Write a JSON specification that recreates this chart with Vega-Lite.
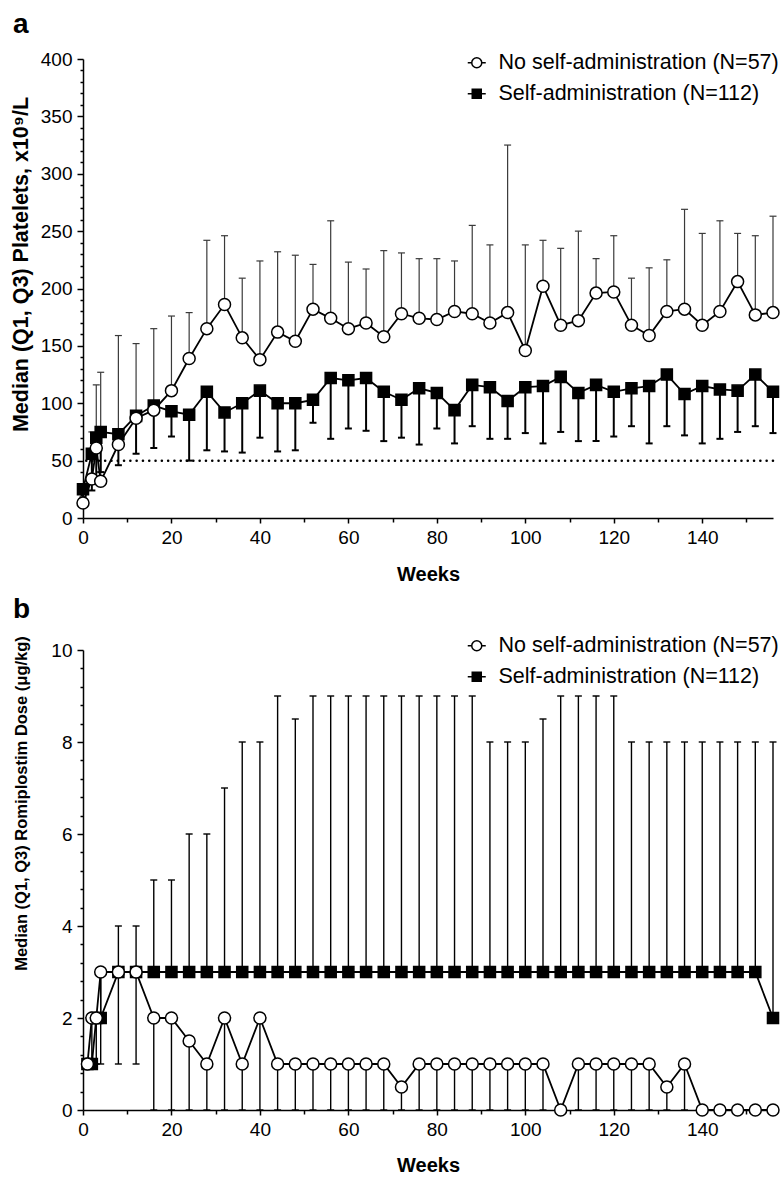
{
  "$schema": "https://vega.github.io/schema/vega-lite/v6.json",
  "padding": {"left": 10, "top": 11, "right": 0, "bottom": 0},
  "background": "white",
  "config": {
    "font": "Liberation Sans",
    "view": {"stroke": null},
    "axis": {
      "grid": false,
      "domainColor": "black",
      "domainWidth": 1.5,
      "tickColor": "black",
      "tickWidth": 1.5,
      "labelColor": "black",
      "labelFontSize": 19,
      "labelFont": "Liberation Sans",
      "titleFont": "Liberation Sans",
      "titleColor": "black",
      "titleFontWeight": "bold",
      "labelPadding": 5,
      "labelOverlap": false,
      "labelFlush": false,
      "labelBound": false
    },
    "legend": {
      "labelFontSize": 21.5,
      "labelFont": "Liberation Sans",
      "labelColor": "black",
      "labelLimit": 400,
      "symbolSize": 100,
      "symbolStrokeColor": "black",
      "symbolStrokeWidth": 1.5,
      "labelOffset": 11,
      "rowPadding": 8
    },
    "title": {"font": "Liberation Sans", "fontSize": 28, "fontWeight": "bold", "color": "black", "anchor": "start", "frame": "group"}
  },
  "datasets": {
    "platelets": [
      {"week":0,"series":"No self-administration (N=57)","median":13,"errorEnd":null},
      {"week":2,"series":"No self-administration (N=57)","median":34,"errorEnd":75},
      {"week":3,"series":"No self-administration (N=57)","median":61,"errorEnd":116},
      {"week":4,"series":"No self-administration (N=57)","median":32,"errorEnd":127},
      {"week":8,"series":"No self-administration (N=57)","median":64,"errorEnd":159},
      {"week":12,"series":"No self-administration (N=57)","median":87,"errorEnd":152},
      {"week":16,"series":"No self-administration (N=57)","median":94,"errorEnd":165},
      {"week":20,"series":"No self-administration (N=57)","median":111,"errorEnd":176},
      {"week":24,"series":"No self-administration (N=57)","median":139,"errorEnd":179},
      {"week":28,"series":"No self-administration (N=57)","median":165,"errorEnd":242},
      {"week":32,"series":"No self-administration (N=57)","median":186,"errorEnd":246},
      {"week":36,"series":"No self-administration (N=57)","median":157,"errorEnd":209},
      {"week":40,"series":"No self-administration (N=57)","median":138,"errorEnd":224},
      {"week":44,"series":"No self-administration (N=57)","median":162,"errorEnd":232},
      {"week":48,"series":"No self-administration (N=57)","median":154,"errorEnd":229},
      {"week":52,"series":"No self-administration (N=57)","median":182,"errorEnd":221},
      {"week":56,"series":"No self-administration (N=57)","median":174,"errorEnd":259},
      {"week":60,"series":"No self-administration (N=57)","median":165,"errorEnd":223},
      {"week":64,"series":"No self-administration (N=57)","median":170,"errorEnd":217},
      {"week":68,"series":"No self-administration (N=57)","median":158,"errorEnd":233},
      {"week":72,"series":"No self-administration (N=57)","median":178,"errorEnd":231},
      {"week":76,"series":"No self-administration (N=57)","median":174,"errorEnd":226},
      {"week":80,"series":"No self-administration (N=57)","median":173,"errorEnd":226},
      {"week":84,"series":"No self-administration (N=57)","median":180,"errorEnd":224},
      {"week":88,"series":"No self-administration (N=57)","median":178,"errorEnd":255},
      {"week":92,"series":"No self-administration (N=57)","median":170,"errorEnd":238},
      {"week":96,"series":"No self-administration (N=57)","median":179,"errorEnd":325},
      {"week":100,"series":"No self-administration (N=57)","median":146,"errorEnd":238},
      {"week":104,"series":"No self-administration (N=57)","median":202,"errorEnd":242},
      {"week":108,"series":"No self-administration (N=57)","median":168,"errorEnd":235},
      {"week":112,"series":"No self-administration (N=57)","median":172,"errorEnd":250},
      {"week":116,"series":"No self-administration (N=57)","median":196,"errorEnd":226},
      {"week":120,"series":"No self-administration (N=57)","median":197,"errorEnd":246},
      {"week":124,"series":"No self-administration (N=57)","median":168,"errorEnd":209},
      {"week":128,"series":"No self-administration (N=57)","median":159,"errorEnd":218},
      {"week":132,"series":"No self-administration (N=57)","median":180,"errorEnd":225},
      {"week":136,"series":"No self-administration (N=57)","median":182,"errorEnd":269},
      {"week":140,"series":"No self-administration (N=57)","median":168,"errorEnd":248},
      {"week":144,"series":"No self-administration (N=57)","median":180,"errorEnd":259},
      {"week":148,"series":"No self-administration (N=57)","median":206,"errorEnd":248},
      {"week":152,"series":"No self-administration (N=57)","median":177,"errorEnd":246},
      {"week":156,"series":"No self-administration (N=57)","median":179,"errorEnd":263},
      {"week":0,"series":"Self-administration (N=112)","median":25,"errorEnd":18},
      {"week":2,"series":"Self-administration (N=112)","median":56,"errorEnd":24},
      {"week":3,"series":"Self-administration (N=112)","median":70,"errorEnd":35},
      {"week":4,"series":"Self-administration (N=112)","median":75,"errorEnd":40},
      {"week":8,"series":"Self-administration (N=112)","median":73,"errorEnd":46},
      {"week":12,"series":"Self-administration (N=112)","median":89,"errorEnd":56},
      {"week":16,"series":"Self-administration (N=112)","median":98,"errorEnd":61},
      {"week":20,"series":"Self-administration (N=112)","median":93,"errorEnd":71},
      {"week":24,"series":"Self-administration (N=112)","median":90,"errorEnd":50},
      {"week":28,"series":"Self-administration (N=112)","median":110,"errorEnd":59},
      {"week":32,"series":"Self-administration (N=112)","median":92,"errorEnd":58},
      {"week":36,"series":"Self-administration (N=112)","median":100,"errorEnd":57},
      {"week":40,"series":"Self-administration (N=112)","median":111,"errorEnd":70},
      {"week":44,"series":"Self-administration (N=112)","median":100,"errorEnd":58},
      {"week":48,"series":"Self-administration (N=112)","median":100,"errorEnd":59},
      {"week":52,"series":"Self-administration (N=112)","median":103,"errorEnd":83},
      {"week":56,"series":"Self-administration (N=112)","median":122,"errorEnd":69},
      {"week":60,"series":"Self-administration (N=112)","median":120,"errorEnd":78},
      {"week":64,"series":"Self-administration (N=112)","median":122,"errorEnd":76},
      {"week":68,"series":"Self-administration (N=112)","median":110,"errorEnd":67},
      {"week":72,"series":"Self-administration (N=112)","median":103,"errorEnd":70},
      {"week":76,"series":"Self-administration (N=112)","median":113,"errorEnd":64},
      {"week":80,"series":"Self-administration (N=112)","median":109,"errorEnd":78},
      {"week":84,"series":"Self-administration (N=112)","median":94,"errorEnd":65},
      {"week":88,"series":"Self-administration (N=112)","median":116,"errorEnd":80},
      {"week":92,"series":"Self-administration (N=112)","median":114,"errorEnd":69},
      {"week":96,"series":"Self-administration (N=112)","median":102,"errorEnd":69},
      {"week":100,"series":"Self-administration (N=112)","median":114,"errorEnd":74},
      {"week":104,"series":"Self-administration (N=112)","median":115,"errorEnd":65},
      {"week":108,"series":"Self-administration (N=112)","median":123,"errorEnd":75},
      {"week":112,"series":"Self-administration (N=112)","median":109,"errorEnd":67},
      {"week":116,"series":"Self-administration (N=112)","median":116,"errorEnd":67},
      {"week":120,"series":"Self-administration (N=112)","median":110,"errorEnd":71},
      {"week":124,"series":"Self-administration (N=112)","median":113,"errorEnd":80},
      {"week":128,"series":"Self-administration (N=112)","median":115,"errorEnd":65},
      {"week":132,"series":"Self-administration (N=112)","median":125,"errorEnd":80},
      {"week":136,"series":"Self-administration (N=112)","median":108,"errorEnd":72},
      {"week":140,"series":"Self-administration (N=112)","median":115,"errorEnd":65},
      {"week":144,"series":"Self-administration (N=112)","median":112,"errorEnd":69},
      {"week":148,"series":"Self-administration (N=112)","median":111,"errorEnd":75},
      {"week":152,"series":"Self-administration (N=112)","median":125,"errorEnd":80},
      {"week":156,"series":"Self-administration (N=112)","median":110,"errorEnd":74}
    ],
    "dose": [
      {"week":1,"series":"No self-administration (N=57)","median":1,"errorEnd":null},
      {"week":2,"series":"No self-administration (N=57)","median":2,"errorEnd":1},
      {"week":3,"series":"No self-administration (N=57)","median":2,"errorEnd":1},
      {"week":4,"series":"No self-administration (N=57)","median":3,"errorEnd":1},
      {"week":8,"series":"No self-administration (N=57)","median":3,"errorEnd":1},
      {"week":12,"series":"No self-administration (N=57)","median":3,"errorEnd":1},
      {"week":16,"series":"No self-administration (N=57)","median":2,"errorEnd":0},
      {"week":20,"series":"No self-administration (N=57)","median":2,"errorEnd":0},
      {"week":24,"series":"No self-administration (N=57)","median":1.5,"errorEnd":0},
      {"week":28,"series":"No self-administration (N=57)","median":1,"errorEnd":0},
      {"week":32,"series":"No self-administration (N=57)","median":2,"errorEnd":0},
      {"week":36,"series":"No self-administration (N=57)","median":1,"errorEnd":0},
      {"week":40,"series":"No self-administration (N=57)","median":2,"errorEnd":0},
      {"week":44,"series":"No self-administration (N=57)","median":1,"errorEnd":0},
      {"week":48,"series":"No self-administration (N=57)","median":1,"errorEnd":0},
      {"week":52,"series":"No self-administration (N=57)","median":1,"errorEnd":0},
      {"week":56,"series":"No self-administration (N=57)","median":1,"errorEnd":0},
      {"week":60,"series":"No self-administration (N=57)","median":1,"errorEnd":0},
      {"week":64,"series":"No self-administration (N=57)","median":1,"errorEnd":0},
      {"week":68,"series":"No self-administration (N=57)","median":1,"errorEnd":0},
      {"week":72,"series":"No self-administration (N=57)","median":0.5,"errorEnd":0},
      {"week":76,"series":"No self-administration (N=57)","median":1,"errorEnd":0},
      {"week":80,"series":"No self-administration (N=57)","median":1,"errorEnd":0},
      {"week":84,"series":"No self-administration (N=57)","median":1,"errorEnd":0},
      {"week":88,"series":"No self-administration (N=57)","median":1,"errorEnd":0},
      {"week":92,"series":"No self-administration (N=57)","median":1,"errorEnd":0},
      {"week":96,"series":"No self-administration (N=57)","median":1,"errorEnd":0},
      {"week":100,"series":"No self-administration (N=57)","median":1,"errorEnd":0},
      {"week":104,"series":"No self-administration (N=57)","median":1,"errorEnd":0},
      {"week":108,"series":"No self-administration (N=57)","median":0,"errorEnd":null},
      {"week":112,"series":"No self-administration (N=57)","median":1,"errorEnd":0},
      {"week":116,"series":"No self-administration (N=57)","median":1,"errorEnd":0},
      {"week":120,"series":"No self-administration (N=57)","median":1,"errorEnd":0},
      {"week":124,"series":"No self-administration (N=57)","median":1,"errorEnd":0},
      {"week":128,"series":"No self-administration (N=57)","median":1,"errorEnd":0},
      {"week":132,"series":"No self-administration (N=57)","median":0.5,"errorEnd":0},
      {"week":136,"series":"No self-administration (N=57)","median":1,"errorEnd":0},
      {"week":140,"series":"No self-administration (N=57)","median":0,"errorEnd":null},
      {"week":144,"series":"No self-administration (N=57)","median":0,"errorEnd":null},
      {"week":148,"series":"No self-administration (N=57)","median":0,"errorEnd":null},
      {"week":152,"series":"No self-administration (N=57)","median":0,"errorEnd":null},
      {"week":156,"series":"No self-administration (N=57)","median":0,"errorEnd":null},
      {"week":1,"series":"Self-administration (N=112)","median":1,"errorEnd":null},
      {"week":2,"series":"Self-administration (N=112)","median":1,"errorEnd":null},
      {"week":3,"series":"Self-administration (N=112)","median":2,"errorEnd":null},
      {"week":4,"series":"Self-administration (N=112)","median":2,"errorEnd":3},
      {"week":8,"series":"Self-administration (N=112)","median":3,"errorEnd":4},
      {"week":12,"series":"Self-administration (N=112)","median":3,"errorEnd":4},
      {"week":16,"series":"Self-administration (N=112)","median":3,"errorEnd":5},
      {"week":20,"series":"Self-administration (N=112)","median":3,"errorEnd":5},
      {"week":24,"series":"Self-administration (N=112)","median":3,"errorEnd":6},
      {"week":28,"series":"Self-administration (N=112)","median":3,"errorEnd":6},
      {"week":32,"series":"Self-administration (N=112)","median":3,"errorEnd":7},
      {"week":36,"series":"Self-administration (N=112)","median":3,"errorEnd":8},
      {"week":40,"series":"Self-administration (N=112)","median":3,"errorEnd":8},
      {"week":44,"series":"Self-administration (N=112)","median":3,"errorEnd":9},
      {"week":48,"series":"Self-administration (N=112)","median":3,"errorEnd":8.5},
      {"week":52,"series":"Self-administration (N=112)","median":3,"errorEnd":9},
      {"week":56,"series":"Self-administration (N=112)","median":3,"errorEnd":9},
      {"week":60,"series":"Self-administration (N=112)","median":3,"errorEnd":9},
      {"week":64,"series":"Self-administration (N=112)","median":3,"errorEnd":9},
      {"week":68,"series":"Self-administration (N=112)","median":3,"errorEnd":9},
      {"week":72,"series":"Self-administration (N=112)","median":3,"errorEnd":9},
      {"week":76,"series":"Self-administration (N=112)","median":3,"errorEnd":9},
      {"week":80,"series":"Self-administration (N=112)","median":3,"errorEnd":9},
      {"week":84,"series":"Self-administration (N=112)","median":3,"errorEnd":9},
      {"week":88,"series":"Self-administration (N=112)","median":3,"errorEnd":9},
      {"week":92,"series":"Self-administration (N=112)","median":3,"errorEnd":8},
      {"week":96,"series":"Self-administration (N=112)","median":3,"errorEnd":8},
      {"week":100,"series":"Self-administration (N=112)","median":3,"errorEnd":8},
      {"week":104,"series":"Self-administration (N=112)","median":3,"errorEnd":8.5},
      {"week":108,"series":"Self-administration (N=112)","median":3,"errorEnd":9},
      {"week":112,"series":"Self-administration (N=112)","median":3,"errorEnd":9},
      {"week":116,"series":"Self-administration (N=112)","median":3,"errorEnd":9},
      {"week":120,"series":"Self-administration (N=112)","median":3,"errorEnd":9},
      {"week":124,"series":"Self-administration (N=112)","median":3,"errorEnd":8},
      {"week":128,"series":"Self-administration (N=112)","median":3,"errorEnd":8},
      {"week":132,"series":"Self-administration (N=112)","median":3,"errorEnd":8},
      {"week":136,"series":"Self-administration (N=112)","median":3,"errorEnd":8},
      {"week":140,"series":"Self-administration (N=112)","median":3,"errorEnd":8},
      {"week":144,"series":"Self-administration (N=112)","median":3,"errorEnd":8},
      {"week":148,"series":"Self-administration (N=112)","median":3,"errorEnd":8},
      {"week":152,"series":"Self-administration (N=112)","median":3,"errorEnd":8},
      {"week":156,"series":"Self-administration (N=112)","median":2,"errorEnd":8}
    ]
  },
  "resolve": {
    "scale": {"x": "independent", "y": "independent", "fill": "independent"},
    "legend": {"fill": "independent"}
  },
  "spacing": 12,
  "vconcat": [
    {
      "width": 690,
      "height": 459,
      "title": {"text": "a", "dx": -70, "dy": -7},
      "data": {"name": "platelets"},
      "resolve": {"axis": {"x": "independent", "y": "independent"}},
      "layer": [
        {
          "data": {"values": [{"threshold": 50}]},
          "mark": {"type": "rule", "color": "black", "strokeWidth": 2.5, "strokeCap": "round", "strokeDash": [0.1, 6.2]},
          "encoding": {"y": {"field": "threshold", "type": "quantitative", "axis": null}}
        },
        {
          "transform": [{"filter": "datum.series === 'No self-administration (N=57)' && isValid(datum.errorEnd)"}],
          "mark": {"type": "rule", "color": "#3a3a3a", "strokeWidth": 1.2},
          "encoding": {
            "x": {"field": "week", "type": "quantitative", "axis": null},
            "y": {"field": "median", "type": "quantitative", "axis": null},
            "y2": {"field": "errorEnd"}
          }
        },
        {
          "transform": [{"filter": "datum.series === 'No self-administration (N=57)' && isValid(datum.errorEnd)"}],
          "mark": {"type": "tick", "orient": "horizontal", "color": "#3a3a3a", "thickness": 1.2, "size": 7, "opacity": 1},
          "encoding": {
            "x": {"field": "week", "type": "quantitative", "axis": null},
            "y": {"field": "errorEnd", "type": "quantitative", "axis": null}
          }
        },
        {
          "transform": [{"filter": "datum.series === 'Self-administration (N=112)' && isValid(datum.errorEnd)"}],
          "mark": {"type": "rule", "color": "black", "strokeWidth": 2},
          "encoding": {
            "x": {"field": "week", "type": "quantitative", "axis": null},
            "y": {"field": "median", "type": "quantitative", "axis": null},
            "y2": {"field": "errorEnd"}
          }
        },
        {
          "transform": [{"filter": "datum.series === 'Self-administration (N=112)' && isValid(datum.errorEnd)"}],
          "mark": {"type": "tick", "orient": "horizontal", "color": "black", "thickness": 2, "size": 7, "opacity": 1},
          "encoding": {
            "x": {"field": "week", "type": "quantitative", "axis": null},
            "y": {"field": "errorEnd", "type": "quantitative", "axis": null}
          }
        },
        {
          "mark": {"type": "line", "color": "black", "strokeWidth": 1.8},
          "encoding": {
            "x": {"field": "week", "type": "quantitative",
              "axis": {"orient": "bottom", "offset": 0, "values": [10,30,50,70,90,110,130,150], "labels": false, "domain": false, "tickSize": 4, "title": null}},
            "y": {"field": "median", "type": "quantitative",
              "axis": {"orient": "left", "offset": 0, "values": [10,20,30,40,60,70,80,90,110,120,130,140,160,170,180,190,210,220,230,240,260,270,280,290,310,320,330,340,360,370,380,390], "labels": false, "domain": false, "tickSize": 3, "title": null}},
            "detail": {"field": "series"}
          }
        },
        {
          "mark": {
            "type": "point",
            "shape": {"expr": "isValid(datum.series) ? (datum.series === 'No self-administration (N=57)' ? 'circle' : 'M-0.92,-0.92L0.92,-0.92L0.92,0.92L-0.92,0.92Z') : (datum.value === 'No self-administration (N=57)' ? 'M-1.8,0L-1,0M1,0L1.8,0M-1,0A1,1,0,1,1,1,0A1,1,0,1,1,-1,0Z' : 'M-1.8,0L1.8,0M-0.9,-0.9L0.9,-0.9L0.9,0.9L-0.9,0.9Z')"},
            "stroke": "black", "strokeWidth": 1.5, "opacity": 1, "fillOpacity": 1, "size": 144
          },
          "encoding": {
            "x": {
              "field": "week", "type": "quantitative",
              "scale": {"domain": [0, 156], "nice": false, "zero": false},
              "axis": {
                "orient": "bottom", "offset": 0,
                "values": [0,20,40,60,80,100,120,140],
                "tickSize": 5,
                "title": "Weeks",
                "titleFontSize": 20,
                "titleY": 56,
                "titleBaseline": "middle"
              }
            },
            "y": {
              "field": "median", "type": "quantitative",
              "scale": {"domain": [0, 400], "nice": false},
              "axis": {
                "orient": "left", "offset": 0,
                "values": [0,50,100,150,200,250,300,350,400],
                "tickSize": 6,
                "title": "Median (Q1, Q3) Platelets, x10⁹/L",
                "titleFontSize": 21.5,
                "titleX": -62,
                "titleY": 205,
                "titleBaseline": "middle"
              }
            },
            "fill": {
              "field": "series", "type": "nominal",
              "scale": {"domain": ["No self-administration (N=57)", "Self-administration (N=112)"], "range": ["white", "black"]},
              "legend": {
                "orient": "none", "title": null,
                "legendX": 383, "legendY": -7,
                "symbolStrokeColor": "black",
                "encode": {"symbols": {
                  "size": {"value": 100},
                  "stroke": {"value": "black"},
                  "strokeWidth": {"value": 1.5}
                }}
              }
            },
            "order": {"field": "series", "sort": "descending"}
          }
        }
      ]
    },
    {
      "width": 690,
      "height": 460,
      "title": {"text": "b", "dx": -70, "dy": -7},
      "data": {"name": "dose"},
      "resolve": {"axis": {"x": "independent", "y": "independent"}},
      "layer": [
        {
          "transform": [{"filter": "isValid(datum.errorEnd)"}],
          "mark": {"type": "rule", "color": "black", "strokeWidth": 1.4},
          "encoding": {
            "x": {"field": "week", "type": "quantitative", "axis": null},
            "y": {"field": "median", "type": "quantitative", "axis": null},
            "y2": {"field": "errorEnd"}
          }
        },
        {
          "transform": [{"filter": "isValid(datum.errorEnd)"}],
          "mark": {"type": "tick", "orient": "horizontal", "color": "black", "thickness": 1.4, "size": 7, "opacity": 1},
          "encoding": {
            "x": {"field": "week", "type": "quantitative", "axis": null},
            "y": {"field": "errorEnd", "type": "quantitative", "axis": null}
          }
        },
        {
          "mark": {"type": "line", "color": "black", "strokeWidth": 1.8},
          "encoding": {
            "x": {"field": "week", "type": "quantitative",
              "axis": {"orient": "bottom", "offset": 0, "values": [10,30,50,70,90,110,130,150], "labels": false, "domain": false, "tickSize": 4, "title": null}},
            "y": {"field": "median", "type": "quantitative",
              "axis": {"orient": "left", "offset": 0, "values": [0.4,0.8,1.2,1.6,2.4,2.8,3.2,3.6,4.4,4.8,5.2,5.6,6.4,6.8,7.2,7.6,8.4,8.8,9.2,9.6], "labels": false, "domain": false, "tickSize": 3, "title": null}},
            "detail": {"field": "series"}
          }
        },
        {
          "mark": {
            "type": "point",
            "shape": {"expr": "isValid(datum.series) ? (datum.series === 'No self-administration (N=57)' ? 'circle' : 'M-0.92,-0.92L0.92,-0.92L0.92,0.92L-0.92,0.92Z') : (datum.value === 'No self-administration (N=57)' ? 'M-1.8,0L-1,0M1,0L1.8,0M-1,0A1,1,0,1,1,1,0A1,1,0,1,1,-1,0Z' : 'M-1.8,0L1.8,0M-0.9,-0.9L0.9,-0.9L0.9,0.9L-0.9,0.9Z')"},
            "stroke": "black", "strokeWidth": 1.5, "opacity": 1, "fillOpacity": 1, "size": 144
          },
          "encoding": {
            "x": {
              "field": "week", "type": "quantitative",
              "scale": {"domain": [0, 156], "nice": false, "zero": false},
              "axis": {
                "orient": "bottom", "offset": 0,
                "values": [0,20,40,60,80,100,120,140],
                "tickSize": 5,
                "title": "Weeks",
                "titleFontSize": 20,
                "titleY": 55,
                "titleBaseline": "middle"
              }
            },
            "y": {
              "field": "median", "type": "quantitative",
              "scale": {"domain": [0, 10], "nice": false},
              "axis": {
                "orient": "left", "offset": 0,
                "values": [0,2,4,6,8,10],
                "tickSize": 6,
                "title": "Median (Q1, Q3) Romiplostim Dose (μg/kg)",
                "titleFontSize": 16.5,
                "titleX": -62,
                "titleY": 153,
                "titleBaseline": "middle"
              }
            },
            "fill": {
              "field": "series", "type": "nominal",
              "scale": {"domain": ["No self-administration (N=57)", "Self-administration (N=112)"], "range": ["white", "black"]},
              "legend": {
                "orient": "none", "title": null,
                "legendX": 383, "legendY": -15,
                "symbolStrokeColor": "black",
                "encode": {"symbols": {
                  "size": {"value": 100},
                  "stroke": {"value": "black"},
                  "strokeWidth": {"value": 1.5}
                }}
              }
            },
            "order": {"field": "series", "sort": "descending"}
          }
        }
      ]
    }
  ]
}
